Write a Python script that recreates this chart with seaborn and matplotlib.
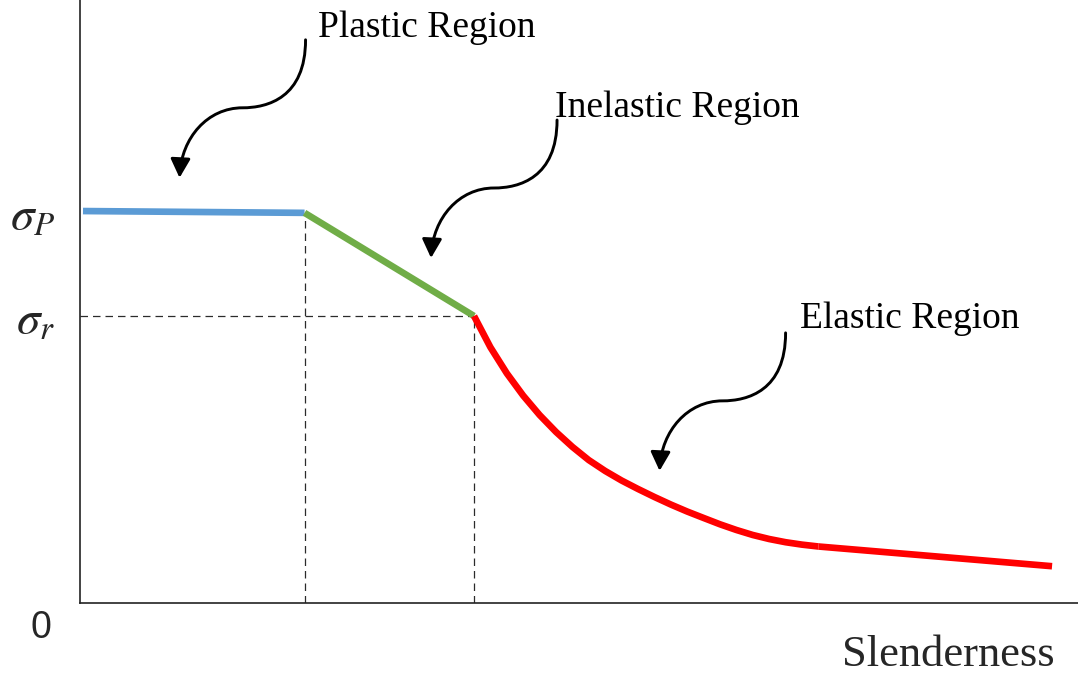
import matplotlib
matplotlib.use("Agg")
import matplotlib.pyplot as plt
import seaborn as sns
from matplotlib.path import Path
from matplotlib.patches import FancyArrowPatch

# ---- data (schematic units, x and y in 0..100) ----
plastic_x = [0.3, 22.5]
plastic_y = [65.0, 64.7]

inelastic_x = [22.5, 39.48]
inelastic_y = [64.7, 47.6]

elastic_x = [39.48, 41.12, 42.77, 44.41, 46.05, 47.70, 49.34, 50.98, 52.63, 54.27, 55.91,
             57.56, 59.20, 60.84, 62.49, 64.13, 65.77, 67.41, 69.06, 70.70, 72.34, 73.99]
elastic_y = [47.6, 42.42, 38.08, 34.39, 31.18, 28.36, 25.89, 23.70, 21.89, 20.31, 18.91,
             17.58, 16.33, 15.17, 14.10, 13.05, 12.11, 11.28, 10.61, 10.08, 9.68, 9.37]

tail_x = [73.99, 97.4]
tail_y = [9.37, 6.1]

ytick_vals = [64.6, 47.4]
ytick_labels = [r"$\sigma_P$", r"$\sigma_r$"]

region_labels = ["Plastic Region", "Inelastic Region", "Elastic Region"]
label_pos = [(23.85, 93.9), (47.6, 80.6), (72.1, 45.6)]
arrow_starts = [(22.6, 93.4), (47.8, 80.1), (70.7, 44.8)]

# ---- style ----
sns.set_theme(style="white")
plt.rcParams["font.family"] = ["Liberation Serif", "DejaVu Serif"]
plt.rcParams["mathtext.fontset"] = "stix"

fig = plt.figure(figsize=(10.78, 6.73), dpi=100)
ax = fig.add_axes([80 / 1078, 70 / 673, 998 / 1078, 603 / 673])
ax.set_xlim(0, 100)
ax.set_ylim(0, 100)

# dashed guide lines
dash_kw = dict(color="#2b2b2b", linewidth=0.9, linestyle=(0, (6, 4)), zorder=1)
ax.plot([inelastic_x[0], inelastic_x[0]], [0, inelastic_y[0]], **dash_kw)
ax.plot([inelastic_x[-1], inelastic_x[-1]], [0, inelastic_y[-1]], **dash_kw)
ax.plot([0, inelastic_x[-1]], [inelastic_y[-1], inelastic_y[-1]], **dash_kw)

lw = 4.8
common = dict(ax=ax, linewidth=lw, estimator=None, sort=False,
              solid_capstyle="butt", solid_joinstyle="round")
sns.lineplot(x=plastic_x, y=plastic_y, color="#5B9BD5", zorder=3, **common)
sns.lineplot(x=inelastic_x, y=inelastic_y, color="#70AD47", zorder=3, **common)
sns.lineplot(x=elastic_x, y=elastic_y, color="#FF0000", zorder=4, **common)
sns.lineplot(x=tail_x, y=tail_y, color="#FF0000", zorder=4, **common)

# spines / ticks
sns.despine(ax=ax, top=True, right=True)
for s in ["left", "bottom"]:
    ax.spines[s].set_color("#222222")
    ax.spines[s].set_linewidth(1.2)
ax.set_xticks([])
ax.set_yticks(ytick_vals)
ax.set_yticklabels(ytick_labels, fontsize=34)
ax.tick_params(axis="y", length=0, pad=18)

# region labels + curvy arrows
sx = 100 / 998
sy = 100 / 603
shape = [(0, 0), (0, 58), (-38, 68), (-63, 68), (-98, 68), (-124, 98), (-126, 138)]
codes = [Path.MOVETO, Path.CURVE4, Path.CURVE4, Path.CURVE4,
         Path.CURVE4, Path.CURVE4, Path.CURVE4]
for text, (tx, ty), (ax0, ay0) in zip(region_labels, label_pos, arrow_starts):
    ax.text(tx, ty, text, fontsize=27, ha="left", va="baseline", color="black")
    verts = [(ax0 + dx * sx, ay0 - dy * sy) for dx, dy in shape]
    arr = FancyArrowPatch(path=Path(verts, codes),
                          arrowstyle="-|>,head_length=1.15,head_width=0.6",
                          mutation_scale=10, color="black", linewidth=2.1,
                          transform=ax.transData, zorder=5)
    ax.add_patch(arr)

ax.text(-3.9, -4.1, "0", fontsize=27, ha="center", va="center",
        family=["Liberation Sans", "DejaVu Sans"], clip_on=False)
ax.text(97.7, -10.4, "Slenderness", fontsize=32, ha="right", va="baseline",
        clip_on=False)

fig.savefig("out.png", dpi=100)
